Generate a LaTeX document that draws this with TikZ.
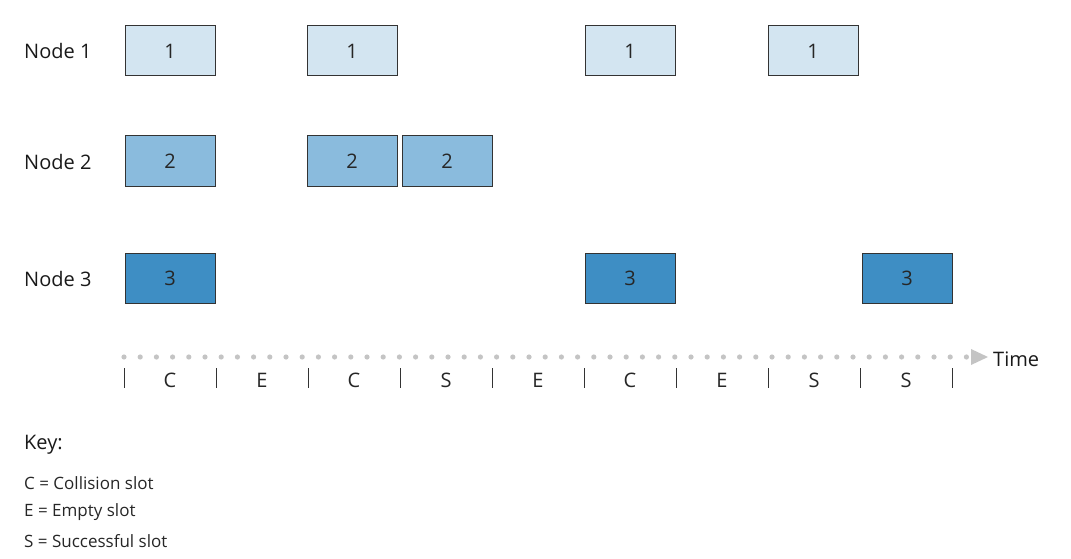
\documentclass[tikz,border=0pt]{standalone}
\usepackage{fontspec}
\setmainfont{Open Sans}
\usetikzlibrary{arrows.meta}
\definecolor{cA}{HTML}{D3E5F1}
\definecolor{cB}{HTML}{8ABBDD}
\definecolor{cC}{HTML}{3E8EC4}
\definecolor{dotc}{HTML}{C4C4C4}
\begin{document}
\begin{tikzpicture}[x=1pt,y=-1pt,
  slotbox/.style={draw=black!80,line width=1pt,minimum width=90pt,minimum height=50pt,inner sep=0,font=\fontsize{20}{24}\selectfont,text=black!85},
  lbl/.style={anchor=west,font=\fontsize{20}{24}\selectfont,text=black!90,inner sep=0},
  keyt/.style={anchor=west,font=\fontsize{17}{20}\selectfont,text=black!85,inner sep=0},
  tick/.style={draw=black!80,line width=1pt}]
\useasboundingbox (0,0) rectangle (1071,559);
\node[lbl] (n1) at (24,51) {Node 1};
\node[lbl] (n2) at (24,162) {Node 2};
\node[lbl] (n3) at (24,279) {Node 3};
\foreach \x/\n in {170/a,352/b,630/c,813/d} \node[slotbox,fill=cA] (r1\n) at (\x,51) {1};
\foreach \x/\n in {170/a,352/b,447/c} \node[slotbox,fill=cB] (r2\n) at (\x,161) {2};
\foreach \x/\n in {170/a,630/b,907/c} \node[slotbox,fill=cC] (r3\n) at (\x,278) {3};
\coordinate (t0) at (124,357);
\coordinate (t1) at (970,357);
\foreach \i in {0,...,52} \fill[dotc] (124+\i*16.2,357) circle (2.6pt);
\fill[dotc] (971,349) -- (988,357) -- (971,365) -- cycle;
\node[lbl] (time) at (993,359) {Time};
\foreach \i in {0,...,9} \draw[tick] (124+\i*92,368) -- (124+\i*92,388);
\foreach \l [count=\i from 0] in {C,E,C,S,E,C,E,S,S}
  \node[font=\fontsize{20}{24}\selectfont,text=black!85] (s\i) at (170+\i*92,380) {\l};
\node[lbl] (key) at (24,445) {Key:};
\node[keyt] (k1) at (24,483) {C = Collision slot};
\node[keyt] (k2) at (24,512) {E = Empty slot};
\node[keyt] (k3) at (24,541) {S = Successful slot};
\end{tikzpicture}
\end{document}
